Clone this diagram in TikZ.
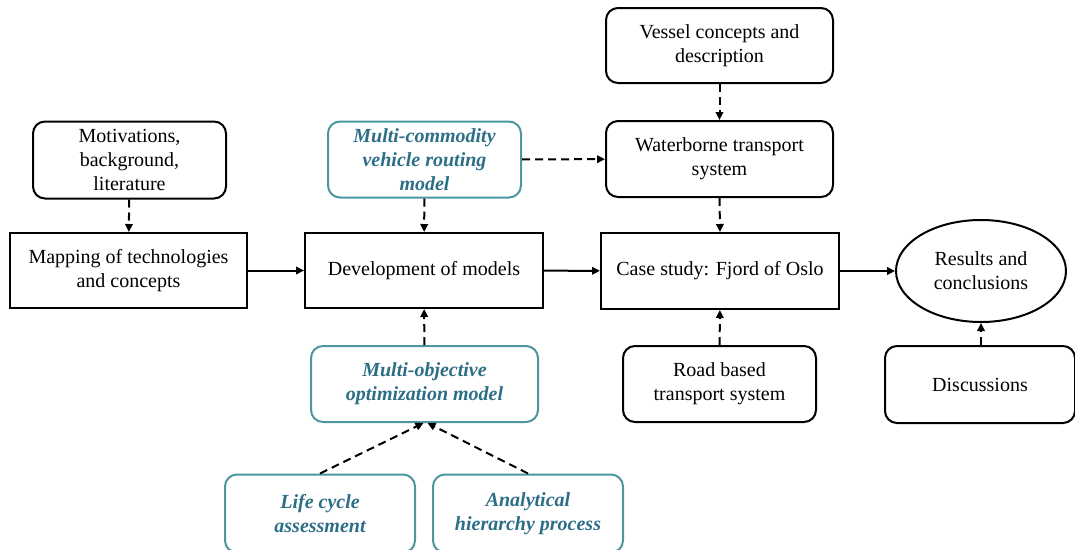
\documentclass[tikz,border=0pt]{standalone}
\usepackage{fontspec}
\setmainfont{Liberation Serif}
\usetikzlibrary{arrows.meta,shapes.geometric}
\definecolor{tealtext}{RGB}{45,110,135}
\definecolor{tealline}{RGB}{75,150,160}
\begin{document}
\begin{tikzpicture}[x=1pt,y=-1pt,
  font=\fontsize{20}{24}\selectfont,
  box/.style={draw=black,line width=2pt,inner sep=0pt,align=center},
  rbox/.style={box,rounded corners=12pt},
  tbox/.style={draw=tealline,line width=2pt,inner sep=0pt,align=center,rounded corners=12pt,
    text=tealtext,font=\fontsize{20}{24}\selectfont\bfseries\itshape},
  flow/.style={line width=2pt,-{Triangle[length=8pt,width=7.5pt]}},
  dflow/.style={flow,dash pattern=on 8pt off 5pt}]
\useasboundingbox (0,0) rectangle (1075,549);
\clip (0,0) rectangle (1075,549);
% boxes
\node[rbox,minimum width=193pt,minimum height=77pt] (mot) at (129.5,160) {Motivations,\\background,\\literature};
\node[box,minimum width=237pt,minimum height=75pt] (map) at (128.5,270.5) {Mapping of technologies\\and concepts};
\node[tbox,minimum width=193pt,minimum height=76pt] (mcv) at (424.5,159.5) {Multi-commodity\\vehicle routing\\model};
\node[box,minimum width=238pt,minimum height=75pt] (dev) at (424,270.5) {Development of models};
\node[tbox,minimum width=227pt,minimum height=76pt] (moo) at (424.5,384) {Multi-objective\\optimization model};
\node[tbox,minimum width=190pt,minimum height=78pt] (lca) at (320,513.5) {Life cycle\\assessment};
\node[tbox,minimum width=190pt,minimum height=78pt] (ahp) at (528,513.5) {Analytical\\hierarchy process};
\node[rbox,minimum width=227pt,minimum height=75pt] (ves) at (719.5,45.5) {Vessel concepts and\\description};
\node[rbox,minimum width=227pt,minimum height=76pt] (wat) at (719.5,159) {Waterborne transport\\system};
\node[box,minimum width=238pt,minimum height=76pt] (cas) at (720,271) {Case study: Fjord of Oslo};
\node[box,ellipse,minimum width=170pt,minimum height=102pt] (res) at (981,271) {Results and\\conclusions};
\node[rbox,minimum width=193pt,minimum height=76pt] (road) at (719.5,384) {Road based\\transport system};
\node[rbox,minimum width=190pt,minimum height=77pt] (dis) at (980,384.5) {Discussions};
% connectors
\draw[dflow] (mot) -- (map);
\draw[flow] (map) -- (dev);
\draw[dflow] (mcv) -- (dev);
\draw[dflow] (mcv) -- (wat);
\draw[dflow] (ves) -- (wat);
\draw[dflow] (wat.south) -- (cas.north);
\draw[flow] (dev) -- (cas);
\draw[flow] (cas) -- (res);
\draw[dflow] (road) -- (cas);
\draw[dflow] (moo) -- (dev);
\draw[dflow] (dis.north -| res.south) -- (res.south);
\draw[dflow] (lca.north) -- ([xshift=-1pt]moo.south);
\draw[dflow] (ahp.north) -- ([xshift=3pt]moo.south);
\end{tikzpicture}
\end{document}
